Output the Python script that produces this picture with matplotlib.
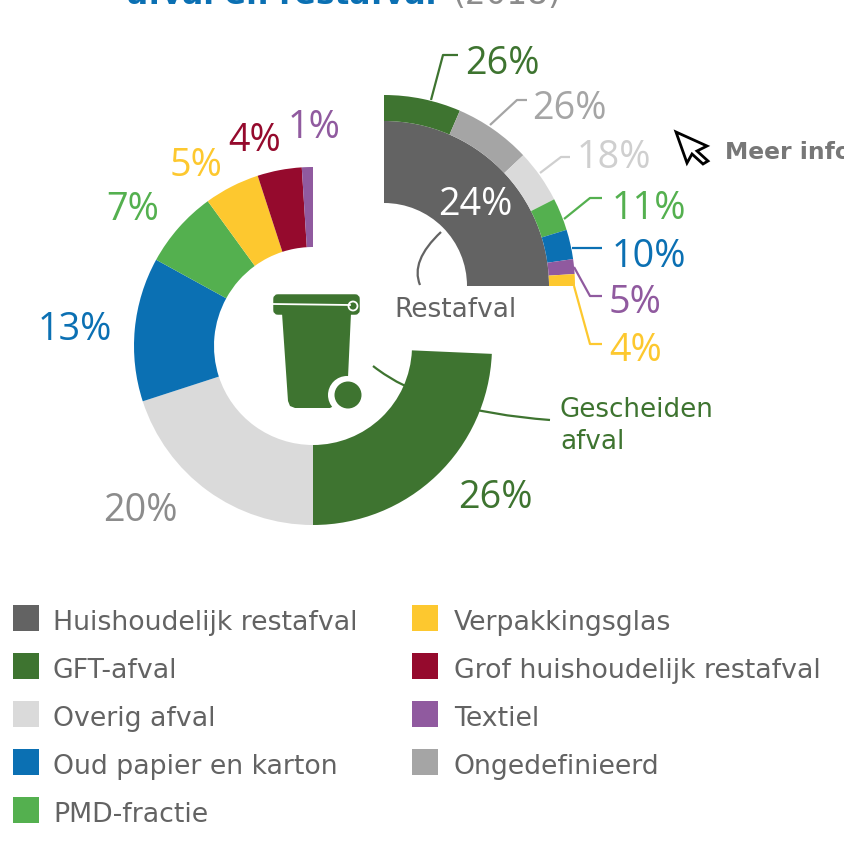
import matplotlib
matplotlib.use('Agg')
import matplotlib.pyplot as plt
from matplotlib.patches import Rectangle, Polygon, Circle, FancyBboxPatch, PathPatch
from matplotlib.path import Path

W, H = 845, 853

# Data
categories = ['Huishoudelijk restafval', 'GFT-afval', 'Overig afval', 'Oud papier en karton', 'PMD-fractie',
              'Verpakkingsglas', 'Grof huishoudelijk restafval', 'Textiel', 'Ongedefinieerd']
# aandelen zoals getekend: de GFT-boog is in het origineel iets korter dan zijn label
total_shares = [25.7, 24.3, 20, 13, 7, 5, 4, 1]
total_labels = [24, 26, 20, 13, 7, 5, 4, 1]
rest_values = [26, 26, 18, 11, 10, 5, 4]

# Colours
DARK = '#636363'
GREEN = '#3e7430'
LIGHT = '#dadada'
BLUE = '#0b70b3'
PMD = '#54b04f'
YELLOW = '#fdc82f'
RED = '#950a2d'
PURPLE = '#905a9f'
GRAY = '#a5a5a5'
legend_colors = [DARK, GREEN, LIGHT, BLUE, PMD, YELLOW, RED, PURPLE, GRAY]
total_colors = ['none', GREEN, LIGHT, BLUE, PMD, YELLOW, RED, PURPLE]
rest_colors = [GREEN, GRAY, LIGHT, PMD, BLUE, PURPLE, YELLOW]


def y(py):
    # pixel rows of the picture run downwards
    return H - py


def label(px, py, txt, color, size=27.2, family='Open Sans', weight='normal', ha='left'):
    ax.text(px, y(py), txt, color=color, fontsize=size, family=family, weight=weight, ha=ha, va='baseline')


def leader(points, color):
    ax.plot([p[0] for p in points], [y(p[1]) for p in points], color=color, lw=1.6, solid_capstyle='butt',
            solid_joinstyle='round', zorder=1)


def curve(p0, p1, p2, color):
    path = Path([(p0[0], y(p0[1])), (p1[0], y(p1[1])), (p2[0], y(p2[1]))], [Path.MOVETO, Path.CURVE3, Path.CURVE3])
    ax.add_patch(PathPatch(path, fc='none', ec=color, lw=1.6, zorder=4))


fig = plt.figure(figsize=(W / 100, H / 100), dpi=100)
ax = fig.add_axes([0, 0, 1, 1])

# Linker ring: totaal, restafval blijft open
ax.pie(total_shares, colors=total_colors, startangle=90, counterclock=False, radius=179, center=(313, y(347)),
       wedgeprops={'width': 80, 'linewidth': 0}, frame=True)

# Rechter kwart: restafval, 90 graden
ax.pie([sum(rest_values), 3 * sum(rest_values)], colors=[DARK, 'none'], startangle=90, counterclock=False,
       radius=165, center=(384, y(287)), wedgeprops={'width': 82, 'linewidth': 0}, frame=True)
ax.pie(rest_values + [3 * sum(rest_values)], colors=rest_colors + ['none'], startangle=90, counterclock=False,
       radius=191, center=(384, y(287)), wedgeprops={'width': 26, 'linewidth': 0}, frame=True)

ax.set_xlim(0, W)
ax.set_ylim(0, H)
ax.axis('off')

# Titel, bovenaan afgesneden
label(127, 4, 'afval en restafval', BLUE, size=22.5, family='DejaVu Sans', weight='bold')
label(452, 4, '(2018)', '#8c8c8c', size=23.6, family='DejaVu Sans')

# Percentages rechter kwart
rest_text_colors = [GREEN, GRAY, '#cfcfcf', PMD, BLUE, PURPLE, YELLOW]
rest_text_pos = [(465, 74), (532, 119), (577, 168), (612, 219), (612, 267), (609, 313), (609, 361)]
for v, c, pos in zip(rest_values, rest_text_colors, rest_text_pos):
    label(pos[0], pos[1], f'{v}%', c)
label(438, 215, f'{total_labels[0]}%', 'white')

# Percentages linker ring
total_text_colors = [GREEN, '#8c8c8c', BLUE, PMD, YELLOW, RED, PURPLE]
total_text_pos = [(458, 508), (103, 521), (38, 340), (106, 220), (170, 176), (228, 151), (288, 138)]
for v, c, pos in zip(total_labels[1:], total_text_colors, total_text_pos):
    label(pos[0], pos[1], f'{v}%', c)

# Verbindingslijnen
leader([(431, 101), (443, 56), (458, 56)], GREEN)
leader([(490, 126), (517, 101), (527, 101)], GRAY)
leader([(540, 174), (561, 158), (570, 158)], '#cfcfcf')
leader([(564, 220), (590, 199), (602, 199)], PMD)
leader([(572, 249), (602, 249)], BLUE)
leader([(574, 268), (590, 297), (602, 297)], PURPLE)
leader([(574, 287), (590, 345), (602, 345)], YELLOW)
curve((441, 233), (410, 262), (420, 286), DARK)
curve((373, 367), (430, 412), (550, 421), GREEN)

label(394, 317, 'Restafval', DARK, size=19, family='DejaVu Sans')
label(560, 417, 'Gescheiden', GREEN, size=18.8, family='DejaVu Sans')
label(560, 449, 'afval', GREEN, size=18.8, family='DejaVu Sans')

# Container
body = [(282, 314), (351, 314), (347, 400), (330, 409), (295, 409), (290, 407), (288, 402)]
ax.add_patch(Polygon([(a, y(b)) for a, b in body], closed=True, fc=GREEN, ec='none'))
ax.add_patch(FancyBboxPatch((275, y(314)), 83, 17, boxstyle='round,pad=0,rounding_size=3', fc=GREEN, ec=GREEN, lw=2.5))
ax.plot([273, 350], [y(305), y(306)], color='white', lw=1.3)
ax.add_patch(Circle((353, y(307)), 4.5, fc=GREEN, ec='white', lw=1.3))
ax.add_patch(Circle((347, y(396)), 19, fc='white', ec='none'))
ax.add_patch(Circle((348, y(396)), 13.5, fc=GREEN, ec='none'))

# Cursor + meer info
cursor = [(676, 133), (707, 147), (697, 152), (708, 162), (703, 165), (692, 155), (687, 164)]
ax.add_patch(Polygon([(a, y(b)) for a, b in cursor], closed=True, fc='white', ec='black', lw=2))
label(725, 159, 'Meer info', '#777777', size=16.8, family='DejaVu Sans', weight='bold')

# Legenda
legend_pos = [(13, 619), (13, 667), (13, 715), (13, 763), (13, 811), (412, 619), (412, 667), (412, 715), (412, 763)]
for name, c, pos in zip(categories, legend_colors, legend_pos):
    ax.add_patch(Rectangle((pos[0], y(pos[1] + 13)), 26, 26, fc=c, ec='none'))
    label(pos[0] + (40 if pos[0] < 100 else 42), pos[1] + 11, name, DARK, size=19.3, family='DejaVu Sans')

fig.savefig('out.png', dpi=100)
plt.close(fig)
